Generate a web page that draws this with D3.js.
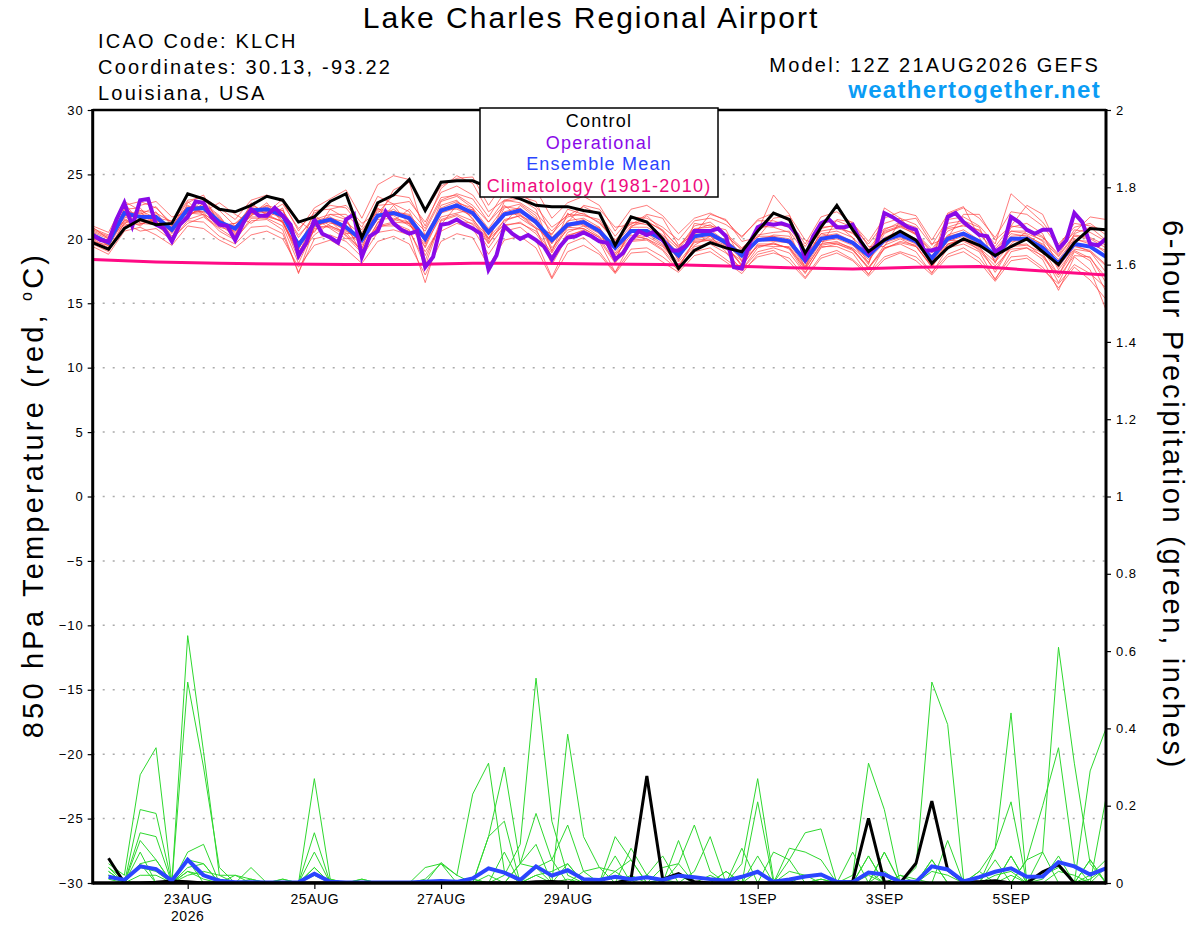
<!DOCTYPE html>
<html>
<head>
<meta charset="utf-8">
<script src="https://cdn.jsdelivr.net/npm/d3@7"></script>
<style>
  body { margin: 0; background: #fff; }
  svg text { font-family: "Liberation Sans", Arial, Helvetica, sans-serif; }
</style>
</head>
<body>
<svg id="chart" width="1200" height="927"></svg>
<script>
// ---- data ----
var runStart = Date.UTC(2026, 7, 21, 12);   // 12Z 21AUG2026
var runEnd = Date.UTC(2026, 8, 6, 12);
var tempTicks = [30, 25, 20, 15, 10, 5, 0, -5, -10, -15, -20, -25, -30];
var precipTicks = [0, 0.2, 0.4, 0.6, 0.8, 1, 1.2, 1.4, 1.6, 1.8, 2];
var precipTickLabels = ['0', '0.2', '0.4', '0.6', '0.8', '1', '1.2', '1.4', '1.6', '1.8', '2'];
var dateTicks = [Date.UTC(2026, 7, 23), Date.UTC(2026, 7, 25), Date.UTC(2026, 7, 27), Date.UTC(2026, 7, 29),
                 Date.UTC(2026, 8, 1), Date.UTC(2026, 8, 3), Date.UTC(2026, 8, 5)];
var dateTickLabels = ['23AUG', '25AUG', '27AUG', '29AUG', '1SEP', '3SEP', '5SEP'];
var legendItems = ['Control', 'Operational', 'Ensemble Mean', 'Climatology (1981-2010)'];

// 850 hPa temperature, 6-hourly from 12Z 21AUG
var controlTemp = [
  19.7, 19.2, 20.8, 21.5, 21.1, 21.2, 23.5, 23.1,
  22.3, 22.1, 22.6, 23.3, 23.0, 21.3, 21.7, 22.9,
  23.5, 20.1, 22.8, 23.4, 24.6, 22.2, 24.4, 24.5,
  24.5, 24.0, 23.5, 23.1, 22.6, 22.5, 22.5, 22.2,
  22.0, 19.5, 21.7, 21.3, 20.0, 17.7, 19.1, 19.7,
  19.3, 19.0, 20.6, 22.0, 21.5, 18.9, 20.9, 22.6,
  20.7, 19.0, 19.9, 20.6, 19.9, 18.1, 19.3, 20.0,
  19.5, 18.7, 19.4, 20.0, 19.0, 18.0, 19.7, 20.8,
  20.7];
var meanTemp = [
  20.3, 19.7, 22.0, 21.7, 21.7, 20.7, 22.3, 22.4,
  21.3, 20.8, 22.2, 22.3, 21.8, 19.5, 21.2, 21.5,
  20.9, 19.9, 21.8, 22.0, 21.6, 20.0, 22.2, 22.6,
  22.0, 20.5, 21.9, 22.2, 21.3, 19.9, 21.1, 21.3,
  20.6, 19.3, 20.6, 20.6, 19.9, 18.7, 20.2, 20.4,
  19.7, 18.7, 19.9, 20.0, 19.8, 18.3, 20.0, 20.2,
  19.7, 18.7, 19.9, 20.3, 19.8, 18.5, 20.0, 20.4,
  19.8, 18.7, 20.0, 20.0, 19.3, 18.1, 19.6, 19.4,
  18.6];
// operational run, 3-hourly
var operTemp = [
  20.3, 19.9, 19.8, 21.5, 22.8, 21.0, 23.0, 23.1,
  21.1, 20.8, 19.8, 21.1, 21.7, 22.9, 22.8, 21.7,
  21.1, 21.0, 19.9, 21.2, 22.3, 21.8, 21.8, 22.4,
  21.8, 21.1, 18.7, 19.7, 21.5, 20.4, 20.1, 19.7,
  21.5, 21.9, 18.6, 20.2, 20.6, 22.1, 21.2, 20.7,
  20.4, 20.6, 17.8, 18.6, 21.1, 21.2, 21.5, 21.1,
  20.8, 20.4, 17.6, 18.7, 21.0, 20.4, 20.0, 20.3,
  19.9, 19.4, 18.4, 19.4, 20.1, 20.2, 20.5, 20.2,
  19.8, 19.7, 18.4, 18.9, 19.9, 20.6, 20.3, 20.6,
  19.9, 19.1, 19.1, 19.5, 20.6, 20.6, 20.6, 20.8,
  20.2, 17.8, 17.7, 19.7, 20.9, 21.2, 21.1, 21.2,
  21.0, 20.3, 18.5, 20.2, 21.2, 21.5, 20.9, 20.9,
  21.1, 19.8, 18.9, 19.5, 22.0, 21.7, 21.3, 20.9,
  20.7, 19.1, 19.1, 19.3, 21.7, 22.0, 21.3, 20.8,
  20.3, 20.2, 19.0, 19.4, 21.7, 21.3, 20.7, 20.4,
  20.7, 20.7, 19.2, 19.9, 22.0, 21.3, 19.6, 19.5,
  20.0];
// climatology, daily at 12Z
var climTemp = [18.4, 18.2, 18.1, 18.05, 18.0, 18.0, 18.1, 18.1, 18.05,
                18.0, 17.9, 17.75, 17.65, 17.8, 17.85, 17.5, 17.2];

// ensemble members, 6-hourly
var r01 = [20.6,20.1,22.6,22.9,22.4,21.2,23.0,23.2, 22.4,21.5,23.0,23.4,22.9,20.6,22.4,23.1, 23.8,21.6,24.2,24.9,24.6,22.1,24.1,24.7,
           24.8,22.6,24.4,24.9,23.8,21.6,22.8,23.3, 22.6,20.6,22.3,22.6,21.8,20.4,21.6,22.0, 21.4,20.1,21.5,22.0,21.4,19.6,21.7,22.1,
           21.2,19.8,21.6,22.1,21.8,19.9,21.9,22.4, 21.6,20.1,22.1,21.9,21.0,19.4,21.2,21.0, 20.6];
var r02 = [19.9,19.2,21.2,20.6,20.8,19.9,21.4,21.3, 20.2,19.6,20.9,21.0,20.4,17.4,20.0,20.3, 19.8,18.6,20.5,20.7,20.3,16.6,20.6,21.2,
           20.8,18.8,20.6,20.9,19.9,17.0,19.6,20.1, 19.0,17.4,19.2,19.3,18.6,17.6,19.0,19.3, 18.4,17.5,18.6,18.9,18.5,17.0,18.7,19.1,
           18.4,17.3,18.6,19.0,18.6,17.4,18.8,19.3, 18.5,16.9,18.6,18.7,17.8,16.2,17.8,16.8, 15.3];
var r03 = [20.8,20.3,21.6,22.1,21.2,21.0,22.6,22.0, 21.0,21.2,21.8,22.6,22.2,20.1,21.8,21.0, 20.4,20.5,22.4,21.4,22.3,20.8,23.2,23.4,
           22.6,21.3,22.6,21.6,20.8,20.4,21.7,22.0, 21.2,19.9,21.3,21.1,20.3,19.2,20.7,21.1, 20.2,19.2,20.6,23.4,21.9,18.6,20.4,20.6,
           20.1,18.9,20.6,21.0,20.3,18.9,20.6,21.1, 20.4,19.0,20.6,20.4,19.9,18.6,20.2,20.0, 19.3];
var r04 = [19.8,19.5,21.9,21.3,22.1,20.4,21.7,22.6, 21.6,20.3,22.5,21.9,21.3,19.0,20.6,21.9, 21.5,19.3,21.2,22.6,21.1,19.6,21.7,22.0,
           22.3,20.0,22.4,22.7,21.8,19.3,20.7,20.8, 20.1,18.8,20.0,20.2,19.5,18.2,19.7,19.9, 19.2,18.3,19.4,19.6,19.3,17.7,19.5,19.7,
           19.3,18.2,20.4,21.0,20.6,18.0,19.6,20.0, 19.3,18.2,19.6,20.6,19.8,17.6,19.2,19.0, 17.4];
var r05 = [20.2,19.9,22.3,22.4,21.0,20.9,22.9,21.8, 20.9,20.6,21.9,22.8,21.2,18.8,21.6,20.8, 20.0,20.2,22.2,21.5,21.2,19.4,22.6,23.0,
           21.5,20.1,21.4,21.8,21.2,20.3,22.3,21.9, 21.3,19.8,21.2,21.4,20.6,19.4,20.8,20.9, 20.4,19.3,20.3,20.5,20.6,18.9,20.9,21.0,
           20.4,19.2,20.8,21.1,20.4,19.0,20.9,21.3, 20.6,19.4,21.0,20.8,20.2,18.8,20.7,20.5, 19.8];
var r06 = [20.4,19.4,21.5,21.0,21.9,20.2,21.6,22.8, 21.8,20.1,22.0,21.6,22.4,18.6,20.3,21.2, 21.1,18.8,21.3,22.1,21.9,18.7,21.1,22.6,
           21.6,19.7,21.2,22.6,21.6,18.4,20.5,21.0, 20.2,18.7,20.3,20.0,19.4,18.0,19.5,20.2, 19.0,17.6,19.3,19.7,19.2,17.4,19.3,19.6,
           19.1,17.7,19.2,19.8,19.5,17.8,19.5,20.0, 19.1,17.6,19.5,19.6,18.6,17.0,18.7,18.6, 16.6];
var r07 = [21.0,20.5,22.9,22.2,22.0,21.3,22.0,23.0, 22.2,21.0,22.4,22.0,22.7,20.8,22.0,22.6, 22.4,20.9,23.3,22.7,22.9,21.3,23.6,24.1,
           23.4,21.7,23.6,23.7,22.5,20.9,21.8,22.5, 21.9,20.2,21.7,21.6,20.9,19.9,21.4,21.6, 21.1,20.2,21.4,21.4,21.0,19.4,21.2,21.4,
           20.9,19.6,21.2,21.6,21.1,19.5,21.5,21.7, 21.0,19.6,23.5,22.4,21.3,19.6,20.9,21.2, 20.3];
var r08 = [19.6,19.0,21.0,21.5,21.4,20.0,21.2,21.7, 20.8,20.0,21.4,21.5,20.7,17.3,20.9,21.4, 20.2,18.9,20.9,21.2,20.7,17.9,21.4,21.8,
           21.1,19.3,21.0,21.3,20.4,18.7,20.3,20.6, 19.8,17.4,19.8,19.9,19.1,17.5,19.4,19.6, 18.9,17.6,19.0,19.3,18.9,17.3,19.4,19.4,
           18.9,17.2,19.3,19.6,19.0,17.3,19.3,19.6, 19.0,16.8,19.0,19.3,18.4,16.0,18.6,17.6, 14.5];
var r09 = [20.5,20.0,22.2,21.9,22.5,21.0,22.2,22.1, 21.4,20.9,22.6,22.1,21.6,19.8,21.0,21.6, 21.3,20.3,21.9,21.8,21.0,20.3,22.4,22.9,
           22.2,20.7,22.1,22.4,21.1,19.6,21.4,21.6, 20.9,19.1,20.9,20.9,20.2,18.9,20.4,20.7, 19.8,18.9,20.2,20.2,20.0,18.4,20.2,20.4,
           19.8,18.8,20.1,20.6,20.0,18.7,20.3,20.7, 19.9,18.8,20.2,20.3,19.5,18.2,19.9,19.8, 18.9];
var r10 = [20.1,19.6,21.7,21.8,21.5,20.5,21.9,22.3, 21.1,20.7,22.0,22.1,21.9,19.2,21.4,21.7, 21.0,19.7,21.6,23.8,24.4,20.2,22.0,22.4,
           21.9,20.3,21.8,22.0,21.4,19.9,21.0,21.1, 20.4,18.9,20.5,20.7,20.0,18.6,20.0,20.2, 19.6,18.4,19.8,20.3,20.2,18.1,19.8,20.0,
           19.5,18.4,19.7,20.1,19.6,18.2,19.8,20.2, 19.6,18.5,19.8,19.9,19.1,17.8,19.4,19.1, 18.0];
var r11 = [20.0,19.3,22.4,21.5,21.8,20.6,22.5,22.5, 21.5,20.5,22.1,22.6,21.4,18.9,21.1,21.3, 20.7,19.5,21.6,22.3,21.4,19.3,22.0,22.8,
           22.4,20.8,22.5,22.3,21.5,19.1,21.1,21.5, 20.5,18.4,20.7,20.4,20.0,18.4,20.3,20.5, 19.5,18.0,20.0,20.2,19.6,17.9,20.1,20.3,
           19.6,18.0,22.4,21.6,20.3,18.3,22.0,22.5, 20.1,18.3,20.1,20.1,19.2,17.2,19.5,19.0, 17.9];
var r12 = [20.7,20.2,21.4,22.2,21.6,21.4,22.4,22.3, 21.0,21.2,22.3,22.3,22.2,20.3,21.5,21.9, 21.9,20.7,22.3,22.1,21.8,20.6,23.0,23.5,
           23.1,21.3,23.0,22.8,22.0,20.6,21.9,21.8, 21.5,19.6,21.0,21.3,20.7,19.3,21.0,21.3, 20.3,19.1,20.7,21.2,20.9,19.0,20.6,20.8,
           20.5,19.1,20.5,20.9,20.4,19.2,20.8,21.0, 20.7,19.2,20.6,20.6,20.1,18.7,20.3,20.1, 19.5];
var r13 = [20.3,19.8,21.8,22.0,21.3,20.6,22.1,22.7, 21.7,20.4,21.8,22.5,21.6,19.6,21.3,21.4, 20.6,19.9,21.5,21.6,21.3,19.9,22.3,22.3,
           21.8,20.6,22.0,21.9,20.9,19.7,20.9,21.4, 20.8,19.4,20.6,20.5,19.8,18.9,20.6,20.4, 19.9,18.9,19.9,19.8,19.7,18.5,20.4,20.1,
           19.8,18.9,19.8,20.4,19.9,18.6,20.2,20.5, 19.7,18.9,20.4,20.2,19.6,18.4,20.0,19.6, 19.1];
var r14 = [19.7,19.1,21.3,21.1,21.6,20.1,22.0,21.9, 20.6,19.9,21.6,21.6,21.0,18.1,20.8,21.0, 20.5,19.0,21.0,21.0,20.6,18.3,21.5,21.9,
           21.4,19.6,21.5,21.8,20.8,18.0,20.2,20.7, 19.9,18.1,19.9,20.0,19.2,17.8,19.8,19.9, 19.4,17.9,19.6,19.6,19.3,17.6,19.6,19.8,
           19.2,17.7,19.5,20.0,19.4,17.9,19.6,19.9, 19.4,17.4,19.4,19.5,18.9,16.6,19.0,18.3, 15.9];
var r15 = [20.9,20.0,21.1,22.6,22.9,21.7,22.0,22.1, 22.8,21.9,21.2,22.0,23.1,21.4,20.5,22.3, 22.6,21.2,22.0,23.4,23.2,21.0,23.9,24.9,
           24.3,22.1,23.0,23.3,22.9,20.1,21.3,22.6, 22.3,20.9,21.1,21.9,21.6,19.5,20.4,21.9, 21.5,19.8,20.1,21.6,21.8,19.9,19.5,21.5,
           21.3,19.4,19.4,21.4,21.6,19.6,20.1,21.9, 21.9,19.9,21.0,22.6,21.9,19.2,20.5,21.7, 21.5];
var r16 = [19.4,18.8,20.6,20.9,20.3,19.5,21.0,20.8, 19.9,19.3,20.3,20.6,20.0,17.8,19.5,19.9, 19.2,18.1,19.8,20.2,19.6,17.2,19.8,20.4,
           20.1,17.9,19.9,20.2,19.3,16.9,19.0,19.5, 18.8,17.3,18.9,19.0,18.2,17.4,18.7,19.0, 18.2,17.3,18.8,19.1,18.2,16.9,18.5,18.9,
           18.3,17.1,18.4,18.9,18.3,17.2,18.6,19.0, 18.2,16.7,18.3,18.5,17.6,16.5,18.0,17.3, 16.2];
var r17 = [20.2,19.5,22.8,21.2,21.1,20.0,22.8,23.4, 21.1,20.2,22.8,21.8,21.3,19.1,22.2,22.3, 21.6,19.2,22.6,22.7,22.1,19.7,22.9,23.3,
           22.4,19.8,22.9,23.1,22.3,19.0,22.0,21.0, 20.9,18.3,20.9,21.8,20.6,18.3,21.2,21.0, 20.7,18.2,21.0,20.9,20.5,17.7,20.8,21.1,
           20.1,18.1,20.7,21.3,20.9,17.9,21.2,21.4, 20.9,18.1,20.9,21.2,20.4,17.8,20.4,20.9, 19.9];
var r18 = [20.0,19.7,21.4,21.2,21.4,20.8,21.5,21.9, 21.2,21.0,21.7,21.7,21.4,18.4,21.0,20.9, 20.3,19.1,21.0,21.3,21.2,19.0,21.0,21.4,
           21.2,20.0,21.1,21.2,20.6,18.9,20.9,20.8, 20.1,18.2,20.1,20.4,19.6,17.8,19.9,20.0, 19.5,17.9,19.5,19.4,19.4,17.8,19.8,19.6,
           19.2,17.8,19.3,19.7,19.4,17.8,19.9,19.8, 19.2,17.9,19.2,19.3,18.7,17.2,19.1,18.5, 17.0];
var redMembers = [r01, r02, r03, r04, r05, r06, r07, r08, r09, r10, r11, r12, r13, r14, r15, r16, r17, r18];

// 6-hour precipitation (inches), ending 18Z 21AUG onward
var controlPrecip = [
  0.064, 0, 0, 0.002, 0.005, 0.003, 0, 0,
  0, 0, 0, 0, 0, 0, 0, 0,
  0, 0, 0, 0, 0, 0, 0, 0,
  0, 0, 0, 0.003, 0.004, 0.002, 0, 0,
  0, 0.01, 0.277, 0.01, 0.024, 0.003, 0, 0,
  0, 0, 0, 0, 0, 0, 0, 0.004,
  0.167, 0.003, 0, 0.051, 0.212, 0.034, 0.003, 0.003,
  0.006, 0, 0, 0.029, 0.047, 0, 0, 0];
var meanPrecip = [
  0.016, 0.008, 0.043, 0.036, 0.006, 0.06, 0.02, 0.006,
  0.002, 0.002, 0.001, 0.001, 0.002, 0.024, 0.003, 0.001,
  0.001, 0.001, 0.001, 0.001, 0.003, 0.005, 0.003, 0.012,
  0.038, 0.027, 0.008, 0.043, 0.019, 0.033, 0.01, 0.008,
  0.016, 0.01, 0.015, 0.008, 0.019, 0.015, 0.01, 0.006,
  0.016, 0.029, 0.003, 0.009, 0.017, 0.022, 0.003, 0.002,
  0.027, 0.022, 0.003, 0.003, 0.043, 0.035, 0.004, 0.015,
  0.029, 0.038, 0.016, 0.017, 0.054, 0.043, 0.022, 0.038];
var g01 = [0.05,0.02,0.28,0.35,0,0.03,0.01,0, 0,0.01,0,0,0,0.27,0.01,0, 0,0,0,0,0,0,0,0, 0,0.02,0.10,0.53,0.16,0.02,0,0,
           0.03,0,0,0.01,0,0,0.02,0, 0.05,0.27,0.01,0,0,0.01,0,0, 0.02,0,0,0.04,0.52,0.41,0.01,0, 0,0.02,0,0.01,0.07,0,0.01,0.04];
var g02 = [0.04,0,0.05,0.06,0,0.64,0.34,0.02, 0,0,0,0,0,0.04,0,0, 0,0,0,0,0.01,0.05,0.02,0.23, 0.31,0.03,0,0,0,0.05,0,0,
           0,0,0,0,0.05,0.15,0.03,0, 0,0,0,0,0,0.01,0,0.02, 0.31,0.19,0,0,0,0,0,0, 0,0.07,0,0.08,0.61,0.31,0.05,0];
var g03 = [0.03,0,0.19,0.18,0,0.52,0.30,0.04, 0,0.04,0,0,0,0,0,0, 0.01,0,0,0,0,0,0,0, 0.12,0.30,0.05,0.04,0,0.385,0.12,0.04,
           0,0,0,0,0,0,0,0.03, 0,0,0,0,0,0,0,0, 0.07,0,0,0,0.06,0,0,0.03, 0.09,0.44,0,0,0,0,0.29,0.40];
var g04 = [0.02,0,0.13,0.12,0,0.08,0.10,0, 0,0,0,0,0,0.13,0,0, 0,0,0,0,0,0,0,0.01, 0,0,0.05,0.18,0.06,0,0,0,
           0,0,0,0,0,0,0,0, 0,0.21,0,0.06,0.13,0.14,0,0, 0,0.08,0,0,0,0,0,0, 0,0,0.06,0.20,0.35,0.05,0,0.22];
var g05 = [0.01,0,0.11,0.06,0,0.06,0.05,0, 0.02,0,0,0,0,0.08,0,0, 0,0,0,0,0,0,0,0, 0.12,0.16,0,0,0,0,0,0,
           0.12,0.06,0,0,0.11,0,0,0, 0,0,0,0,0,0,0,0, 0.07,0,0,0,0,0.11,0,0, 0.09,0.21,0,0,0,0,0.06,0];
var g06 = [0.03,0,0.08,0,0,0.06,0,0, 0,0,0,0.01,0,0.04,0,0, 0,0,0,0,0.04,0.05,0,0, 0,0,0,0.04,0.06,0.15,0.03,0,
           0,0.09,0.02,0.07,0,0,0,0, 0,0,0,0.09,0.08,0.06,0,0, 0,0.08,0,0,0,0,0,0, 0,0,0,0,0,0,0.06,0];
var g07 = [0.02,0,0.05,0,0,0.04,0.05,0, 0,0,0,0,0,0,0,0, 0,0,0,0,0,0,0,0, 0,0.08,0,0,0,0,0,0,
           0.07,0,0,0,0,0.03,0.12,0, 0.09,0,0.08,0.06,0,0,0,0.08, 0,0,0,0,0,0,0,0, 0.06,0,0.06,0.08,0,0,0,0];
var g08 = [0,0,0,0,0,0,0,0, 0,0,0,0,0,0,0,0, 0,0,0,0,0,0.053,0.02,0, 0,0,0.05,0.10,0,0,0.03,0.04,
           0.03,0.06,0,0.04,0.05,0,0,0, 0,0.07,0,0,0,0,0,0, 0,0,0.02,0,0.06,0,0,0, 0,0.07,0,0,0,0,0,0.04];
var g09 = [0.02,0,0.02,0.02,0,0.02,0.03,0.02, 0.02,0.01,0,0.01,0,0.02,0.01,0, 0.01,0,0,0,0,0,0,0, 0.02,0,0,0.02,0.03,0.05,0,0,
           0,0,0.02,0,0,0,0,0.03, 0,0,0,0,0.02,0.02,0,0, 0.03,0,0.02,0.01,0,0,0,0.03, 0,0,0,0,0.03,0.02,0,0];
var g10 = [0.04,0.01,0.04,0.03,0,0.03,0.02,0.01, 0,0,0,0,0,0.02,0,0, 0,0,0,0,0,0,0,0.01, 0,0,0,0.02,0,0.01,0,0,
           0,0.02,0,0.01,0.02,0,0,0, 0,0.03,0,0.03,0.02,0,0,0, 0,0.03,0,0,0.03,0.02,0,0, 0.02,0.03,0,0.02,0.04,0,0.02,0.06];
var greenMembers = [g01, g02, g03, g04, g05, g06, g07, g08, g09, g10];

// ---- chart ----
var plotLeft = 92.7, plotRight = 1106, plotTop = 110, plotBottom = 883;
var SIX = 6 * 3600 * 1000, THREE = 3 * 3600 * 1000, DAY = 24 * 3600 * 1000;

var svg = d3.select('#chart');

var x = d3.scaleUtc().domain([runStart, runEnd]).range([plotLeft, plotRight]);
var yT = d3.scaleLinear().domain([-30, 30]).range([plotBottom, plotTop]);
var yP = d3.scaleLinear().domain([0, 2]).range([plotBottom, plotTop]);

svg.append('defs').append('clipPath').attr('id', 'plotclip')
  .append('rect')
  .attr('x', plotLeft).attr('y', plotTop)
  .attr('width', plotRight - plotLeft).attr('height', plotBottom - plotTop);

// dotted gridlines
svg.append('g').selectAll('line')
  .data(tempTicks.filter(function(d) { return d > -30 && d < 30; }))
  .enter().append('line')
  .attr('x1', plotLeft).attr('x2', plotRight)
  .attr('y1', function(d) { return yT(d); })
  .attr('y2', function(d) { return yT(d); })
  .attr('stroke', '#aaa')
  .attr('stroke-width', 1.5)
  .attr('stroke-dasharray', '2,8');

var plot = svg.append('g').attr('clip-path', 'url(#plotclip)');

function stepLine(scale, stepMs, offset) {
  return d3.line()
    .x(function(d, i) { return x(runStart + (i + offset) * stepMs); })
    .y(function(d) { return scale(d); });
}
var tempLine = stepLine(yT, SIX, 0);
var operLine = stepLine(yT, THREE, 0);
var climLine = stepLine(yT, DAY, 0);
var precipLine = stepLine(yP, SIX, 1);

plot.append('g').selectAll('path').data(redMembers).enter().append('path')
  .attr('d', tempLine)
  .attr('fill', 'none').attr('stroke', '#ff3c3c').attr('stroke-width', 0.9).attr('stroke-opacity', 0.75);

plot.append('g').selectAll('path').data(greenMembers).enter().append('path')
  .attr('d', precipLine)
  .attr('fill', 'none').attr('stroke', '#2ed82e').attr('stroke-width', 1);

plot.append('path').datum(climTemp).attr('d', climLine)
  .attr('fill', 'none').attr('stroke', '#ff0a85').attr('stroke-width', 3);

plot.append('path').datum(meanTemp).attr('d', tempLine)
  .attr('fill', 'none').attr('stroke', '#2b45ff').attr('stroke-width', 4);

plot.append('path').datum(operTemp).attr('d', operLine)
  .attr('fill', 'none').attr('stroke', '#8a0ae8').attr('stroke-width', 4);

plot.append('path').datum(controlTemp).attr('d', tempLine)
  .attr('fill', 'none').attr('stroke', '#000').attr('stroke-width', 3);

plot.append('path').datum(controlPrecip).attr('d', precipLine)
  .attr('fill', 'none').attr('stroke', '#000').attr('stroke-width', 3);

plot.append('path').datum(meanPrecip).attr('d', precipLine)
  .attr('fill', 'none').attr('stroke', '#2b45ff').attr('stroke-width', 4);

// axes
var leftAxis = d3.axisLeft(yT).tickValues(tempTicks).tickSize(5).tickPadding(4);
var gl = svg.append('g').attr('transform', 'translate(' + plotLeft + ',0)').call(leftAxis);

var rightAxis = d3.axisRight(yP).tickValues(precipTicks).tickSize(5).tickPadding(5)
  .tickFormat(function(d, i) { return precipTickLabels[i]; });
var gr = svg.append('g').attr('transform', 'translate(' + plotRight + ',0)').call(rightAxis);

var bottomAxis = d3.axisBottom(x).tickValues(dateTicks).tickSize(6).tickPadding(5)
  .tickFormat(function(d, i) { return dateTickLabels[i]; });
var gb = svg.append('g').attr('transform', 'translate(0,' + plotBottom + ')').call(bottomAxis);

[gl, gr, gb].forEach(function(g) {
  g.select('.domain').remove();
  g.selectAll('.tick line').attr('stroke', '#000').attr('stroke-width', 1.2);
  g.selectAll('.tick text').attr('fill', '#000')
    .style('font-family', '"Liberation Sans", Arial, sans-serif');
});
gl.selectAll('.tick text').style('font-size', '13px').style('letter-spacing', '1px');
gr.selectAll('.tick text').style('font-size', '13px').style('letter-spacing', '1px');
gb.selectAll('.tick text').style('font-size', '14px').style('letter-spacing', '0.6px');

gb.append('text')
  .attr('x', x(dateTicks[0])).attr('y', 38)
  .attr('text-anchor', 'middle').attr('fill', '#000')
  .style('font-size', '14px').style('letter-spacing', '0.6px')
  .text('2026');

// frame
var frame = svg.append('g').attr('stroke', '#000').attr('fill', 'none');
frame.append('line').attr('x1', plotLeft).attr('x2', plotRight).attr('y1', plotTop).attr('y2', plotTop).attr('stroke-width', 2.5);
frame.append('line').attr('x1', plotLeft).attr('x2', plotRight).attr('y1', plotBottom).attr('y2', plotBottom).attr('stroke-width', 3.5);
frame.append('line').attr('x1', plotLeft).attr('x2', plotLeft).attr('y1', plotTop - 1).attr('y2', plotBottom + 1.5).attr('stroke-width', 3);
frame.append('line').attr('x1', plotRight).attr('x2', plotRight).attr('y1', plotTop - 1).attr('y2', plotBottom + 1.5).attr('stroke-width', 3);

// legend box
var legendColors = ['#000', '#8a0ae8', '#2b45ff', '#ee0a7d'];
var legend = svg.append('g');
legend.append('rect')
  .attr('x', 480).attr('y', 108).attr('width', 238).attr('height', 89)
  .attr('fill', '#fff').attr('stroke', '#000').attr('stroke-width', 1.5);
legend.selectAll('text').data(legendItems).enter().append('text')
  .attr('x', 599)
  .attr('y', function(d, i) { return 127 + i * 21.5; })
  .attr('text-anchor', 'middle')
  .attr('fill', function(d, i) { return legendColors[i]; })
  .style('font-size', '18px').style('letter-spacing', '1.2px')
  .text(function(d) { return d; });

// header texts
svg.append('text').attr('x', 591).attr('y', 28).attr('text-anchor', 'middle')
  .style('font-size', '30px').style('letter-spacing', '2px').text('Lake Charles Regional Airport');
var infoLines = ['ICAO Code: KLCH', 'Coordinates: 30.13, -93.22', 'Louisiana, USA'];
svg.append('g').selectAll('text').data(infoLines).enter().append('text')
  .attr('x', 98).attr('y', function(d, i) { return 48 + i * 26; })
  .style('font-size', '20px').style('letter-spacing', '2.2px')
  .text(function(d) { return d; });
svg.append('text').attr('x', 1100).attr('y', 72).attr('text-anchor', 'end')
  .style('font-size', '20px').style('letter-spacing', '2.2px').text('Model: 12Z 21AUG2026 GEFS');
svg.append('text').attr('x', 1101).attr('y', 98).attr('text-anchor', 'end')
  .attr('fill', '#0a9cf5')
  .style('font-size', '24px').style('font-weight', 'bold').style('letter-spacing', '1.3px')
  .text('weathertogether.net');

// axis titles
var leftTitle = svg.append('text')
  .attr('transform', 'translate(43,495) rotate(-90)')
  .attr('text-anchor', 'middle')
  .style('font-size', '29px').style('letter-spacing', '3.2px');
leftTitle.append('tspan').text('850 hPa Temperature (red, ');
leftTitle.append('tspan').attr('dy', -11).style('font-size', '16px').text('o');
leftTitle.append('tspan').attr('dy', 11).text('C)');

svg.append('text')
  .attr('transform', 'translate(1163,495) rotate(90)')
  .attr('text-anchor', 'middle')
  .style('font-size', '29px').style('letter-spacing', '2.7px')
  .text('6-hour Precipitation (green, inches)');
</script>
</body>
</html>
